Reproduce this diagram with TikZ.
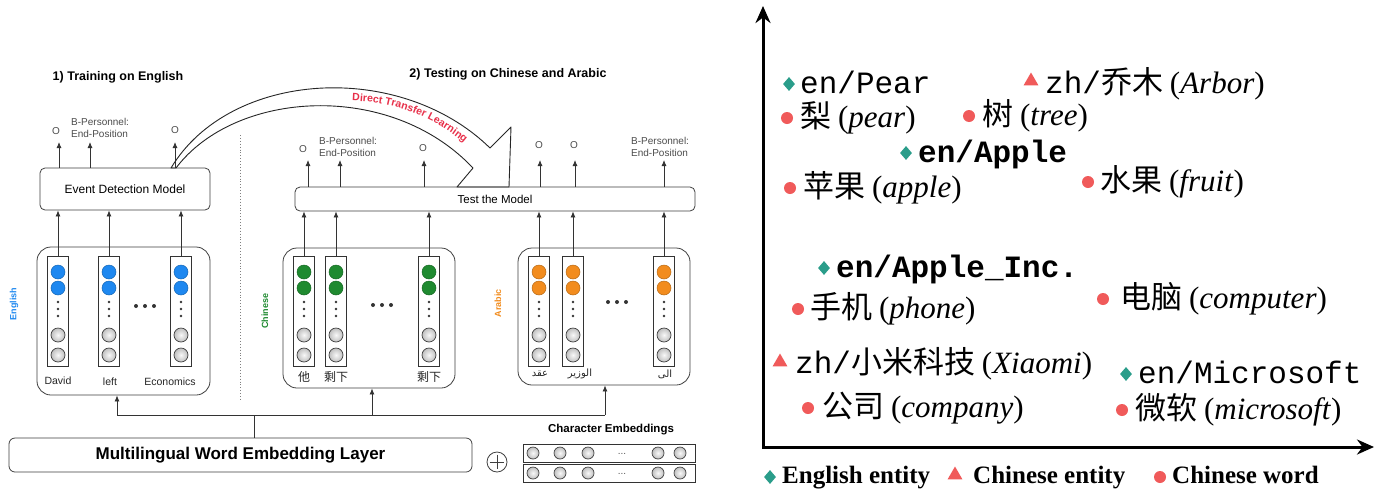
\documentclass[tikz,border=0pt]{standalone}
\usepackage{fontspec}
\setmainfont{Liberation Sans}
\newfontfamily\cjk{Noto Sans CJK SC}
\newfontfamily\tms{Liberation Serif}
\newfontfamily\cour{Liberation Mono}
\newfontfamily\arabicfont[Script=Arabic]{DejaVu Sans}
\TeXXeTstate=1
\usetikzlibrary{arrows.meta,shapes.geometric,decorations.text,calc}
\definecolor{engblue}{HTML}{1E88F0}
\definecolor{zhgreen}{HTML}{1F8A30}
\definecolor{arorange}{HTML}{F28C1E}
\definecolor{teala}{HTML}{2A9D8A}
\definecolor{reda}{HTML}{F05A5A}
\definecolor{dtl}{HTML}{E8304A}
\newcommand{\fs}[2]{\fontsize{#1}{#2}\selectfont}
\tikzset{
  ln/.style={draw=black!80, line width=0.8pt},
  arr/.style={ln, -{Latex[length=6pt,width=5pt]}},
  rbox/.style={draw=black!75, line width=0.8pt, rounded corners=5pt, fill=white, inner sep=0pt},
  cont/.style={draw=black!75, line width=0.8pt, rounded corners=14pt, inner sep=0pt},
  colbox/.style={draw=black!80, line width=0.8pt, minimum width=21pt, minimum height=110pt, inner sep=0pt},
  cdot/.style={circle, minimum size=14pt, inner sep=0pt, draw=#1!75!black, line width=0.5pt, fill=#1},
  gdot/.style={circle, minimum size=14pt, inner sep=0pt, draw=black!75, line width=0.7pt, shading=radial, inner color=gray!5, outer color=gray!50},
  gdots/.style={gdot, minimum size=12pt},
  outl/.style={font=\fs{10}{12}, text=black!70, inner sep=1pt},
  wlab/.style={font=\fs{10.5}{12}, text=black!85, inner sep=1pt},
  zlab/.style={font=\cjk\fs{12}{14}, text=black!85, inner sep=1pt},
  alab/.style={font=\arabicfont\fs{10}{12}, text=black!85, inner sep=1pt},
  vlab/.style={rotate=90, font=\bfseries\fs{9}{10}, inner sep=0pt},
  item/.style={anchor=west, inner sep=0pt, font=\fs{31}{36}, text height=24pt, text depth=6pt},
  legt/.style={anchor=west, inner sep=0pt, font=\tms\bfseries\fs{25}{28}, text height=17pt, text depth=5pt},
  endia/.style={diamond, fill=teala, inner sep=0pt, minimum width=12pt, minimum height=14pt},
  zhtri/.style={regular polygon, regular polygon sides=3, fill=reda, inner sep=0pt, minimum size=17pt},
  zhdot/.style={circle, fill=reda, inner sep=0pt, minimum size=12pt},
  axis/.style={line width=3pt, {Stealth[length=17pt,width=15pt]}-{Stealth[length=17pt,width=15pt]}},
}
\newcommand{\wcol}[3]{%
  \node[colbox] (#1) at (#2,311) {};
  \node[cdot=#3] (#1a) at (#2,272) {};
  \node[cdot=#3] (#1b) at (#2,288) {};
  \fill[black!80] (#2,302) circle (1.3pt) (#2,309) circle (1.3pt) (#2,316) circle (1.3pt);
  \node[gdot] (#1c) at (#2,335) {};
  \node[gdot] (#1d) at (#2,355) {};
}
\begin{document}
\begin{tikzpicture}[x=1pt, y=-1pt]
\useasboundingbox[fill=white] (0,0) rectangle (1375,488);

% ---------- titles ----------
\node[font=\bfseries\fs{12.5}{14}] (t1) at (118,77) {1) Training on English};
\node[font=\bfseries\fs{12.5}{14}] (t2) at (508,74) {2) Testing on Chinese and Arabic};
\draw[black!50, dotted, line width=0.9pt] (240,135) -- (240,400);

% ---------- model boxes ----------
\node[rbox, minimum width=170pt, minimum height=42pt, font=\fs{12}{14}] (edm) at (125,189) {Event Detection Model};
\node[rbox, minimum width=400pt, minimum height=24pt, font=\fs{11.5}{13}] (test) at (495,199) {Test the Model};
\node[rbox, rounded corners=6pt, minimum width=463pt, minimum height=34pt, font=\bfseries\fs{17}{19}] (mwel) at (240.5,455) {Multilingual Word Embedding Layer};

% ---------- containers ----------
\node[cont, minimum width=173pt, minimum height=148pt] (engc) at (123.5,321) {};
\node[cont, minimum width=172pt, minimum height=140pt] (zhc) at (369,318) {};
\node[cont, minimum width=172pt, minimum height=137pt] (arc) at (604,316.5) {};

\node[vlab, text=engblue] (lv1) at (14,304) {English};
\node[vlab, text=zhgreen] (lv2) at (265,311) {Chinese};
\node[vlab, text=arorange] (lv3) at (498,303) {Arabic};

% ---------- word columns ----------
\wcol{e1}{58}{engblue}
\wcol{e2}{109}{engblue}
\wcol{e3}{181}{engblue}
\wcol{z1}{304}{zhgreen}
\wcol{z2}{336}{zhgreen}
\wcol{z3}{429}{zhgreen}
\wcol{a1}{539}{arorange}
\wcol{a2}{573}{arorange}
\wcol{a3}{664}{arorange}
\fill[black!80] (136,306) circle (2pt) (145,306) circle (2pt) (154,306) circle (2pt);
\fill[black!80] (373,305) circle (2pt) (382,305) circle (2pt) (391,305) circle (2pt);
\fill[black!80] (608,302) circle (2pt) (617,302) circle (2pt) (626,302) circle (2pt);

\node[wlab] (we1) at (58,381) {David};
\node[wlab] (we2) at (110,382) {left};
\node[wlab] (we3) at (170,382) {Economics};
\node[zlab] (wz1) at (304,377) {他};
\node[zlab] (wz2) at (336,377) {剩下};
\node[zlab] (wz3) at (429,377) {剩下};
\node[alab] (wa1) at (540,374) {\beginR عقد\endR};
\node[alab] (wa2) at (580,374) {\beginR الوزير\endR};
\node[alab] (wa3) at (665,374) {\beginR الى\endR};

% ---------- column -> model arrows ----------
\foreach \c in {e1,e2,e3} {\draw[arr] (\c.north) -- (\c.north |- edm.south);}
\foreach \c in {z1,z2,z3,a1,a2,a3} {\draw[arr] (\c.north) -- (\c.north |- test.south);}

% ---------- outputs ----------
\coordinate (eo1) at (59,142);
\coordinate (eo2) at (90,142);
\coordinate (eo3) at (175,142);
\foreach \o in {eo1,eo2,eo3} {\draw[arr] (edm.north -| \o) -- (\o);}
\coordinate (to1) at (308,160);
\coordinate (to2) at (340,160);
\coordinate (to3) at (424,160);
\coordinate (to4) at (540,160);
\coordinate (to5) at (575,160);
\coordinate (to6) at (664,160);
\foreach \o in {to1,to2,to3,to4,to5,to6} {\draw[arr] (test.north -| \o) -- (\o);}

\node[outl] (oe1) at (56,131) {O};
\node[outl, anchor=west, align=left] (be) at (70,128) {B-Personnel:\\End-Position};
\node[outl] (oe3) at (175,130) {O};
\node[outl] (ot1) at (303,149) {O};
\node[outl, anchor=west, align=left] (bt1) at (318,147) {B-Personnel:\\End-Position};
\node[outl] (ot3) at (423,148) {O};
\node[outl] (ot4) at (539,145) {O};
\node[outl] (ot5) at (574,145) {O};
\node[outl, anchor=west, align=left] (bt2) at (630,147) {B-Personnel:\\End-Position};

% ---------- direct transfer arrow ----------
\draw[black!85, line width=0.9pt, line join=round]
  (171,168) .. controls (230,70) and (400,60) .. (490,148)
  -- (511,127) -- (509,187) -- (457,187) -- (473,168)
  .. controls (390,80) and (235,90) .. (176,168) -- cycle;
\path[decorate, decoration={text along path, text align=center, text color=dtl,
  text={|\bfseries\fs{10.5}{12}|Direct Transfer Learning}}]
  (336,101) .. controls (392,98) and (440,118) .. (476,154);

% ---------- embedding connectors ----------
\coordinate (jn) at (254,415);
\coordinate (ea) at (117,415);
\coordinate (ca) at (372,415);
\coordinate (aa) at (605,415);
\draw[ln] (mwel.north -| jn) -- (jn);
\draw[ln] (ea) -- (aa);
\draw[arr] (ea) -- (ea |- engc.south);
\draw[arr] (ca) -- (ca |- zhc.south);
\draw[arr] (aa) -- (aa |- arc.south);

% ---------- character embeddings ----------
\node[circle, draw=black!75, line width=0.8pt, minimum size=20pt, inner sep=0pt] (plus) at (497,462) {};
\draw[black!75, line width=0.8pt] ($(plus.north)+(0,3)$) -- ($(plus.south)+(0,-3)$) ($(plus.west)+(3,0)$) -- ($(plus.east)+(-3,0)$);
\node[font=\bfseries\fs{11.5}{13}] (cet) at (611,430) {Character Embeddings};
\node[draw=black!80, line width=1pt, minimum width=172pt, minimum height=18pt, inner sep=0pt] (ce1) at (609,453) {};
\node[draw=black!80, line width=1pt, minimum width=172pt, minimum height=18pt, inner sep=0pt] (ce2) at (609,473) {};
\foreach \r/\y in {1/453,2/473} {
  \foreach \x in {533,560,588,658,680} {\node[gdots] at (\x,\y) {};}
  \node[font=\fs{10}{11}, text=black!65] (cedots\r) at (622,\y+1) {...};
}

% ---------- right panel: axes ----------
\coordinate (ytop) at (763,6);
\coordinate (orig) at (763,447);
\coordinate (xend) at (1374,447);
\draw[axis] (ytop) -- (orig) -- (xend);

% ---------- right panel: items ----------
\node[endia] (m1) at (789,84) {};
\node[item] (i1) at (800,84) {\cour en/Pear};
\node[zhtri] (m2) at (1031,81) {};
\node[item] (i2) at (1045,84) {\cour zh/\cjk 乔木 \tms(\textit{Arbor})};
\node[zhdot] (m3) at (787,118) {};
\node[item] (i3) at (800,118) {\cjk 梨 \tms(\textit{pear})};
\node[zhdot] (m4) at (969,116) {};
\node[item] (i4) at (982,116) {\cjk 树 \tms(\textit{tree})};
\node[endia] (m5) at (906,153) {};
\node[item] (i5) at (918,153) {\cour\bfseries en/Apple};
\node[zhdot] (m6) at (790,188) {};
\node[item] (i6) at (803,188) {\cjk 苹果 \tms(\textit{apple})};
\node[zhdot] (m7) at (1088,182) {};
\node[item] (i7) at (1100,182) {\cjk 水果 \tms(\textit{fruit})};
\node[endia] (m8) at (824,268) {};
\node[item] (i8) at (836,268) {\cour\bfseries en/Apple\_Inc.};
\node[zhdot] (m9) at (798,309) {};
\node[item] (i9) at (810,309) {\cjk 手机 \tms(\textit{phone})};
\node[zhdot] (m10) at (1103,299) {};
\node[item] (i10) at (1120,299) {\cjk 电脑 \tms(\textit{computer})};
\node[zhtri] (m11) at (780,362) {};
\node[item] (i11) at (795,364) {\cour zh/\cjk 小米科技 \tms(\textit{Xiaomi})};
\node[endia] (m12) at (1126,374) {};
\node[item] (i12) at (1138,374) {\cour en/Microsoft};
\node[zhdot] (m13) at (808,408) {};
\node[item] (i13) at (822,408) {\cjk 公司 \tms(\textit{company})};
\node[zhdot] (m14) at (1122,410) {};
\node[item] (i14) at (1135,410) {\cjk 微软 \tms(\textit{microsoft})};

% ---------- legend ----------
\node[endia] (lg1) at (770,477) {};
\node[legt] (lt1) at (782,477) {English entity};
\node[zhtri] (lg2) at (955,475) {};
\node[legt] (lt2) at (973,477) {Chinese entity};
\node[zhdot] (lg3) at (1160,477) {};
\node[legt] (lt3) at (1172,477) {Chinese word};
\end{tikzpicture}
\end{document}
